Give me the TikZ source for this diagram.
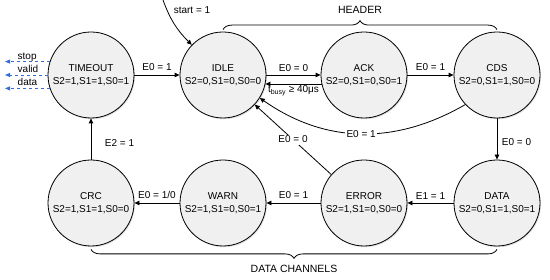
\documentclass[tikz,border=0pt]{standalone}
\usepackage{fontspec}
\setmainfont{Liberation Sans}
\usepackage{xcolor}
\usetikzlibrary{positioning,arrows.meta,shadows,decorations.pathreplacing}

\definecolor{sigblue}{HTML}{2F6FE0}

\begin{document}
\begin{tikzpicture}[
    x=1pt, y=1pt,
    state/.style={draw, circle, line width=0.8pt, minimum size=86pt, inner sep=0pt,
                  fill=gray!12, align=center, font=\fontsize{10}{13}\selectfont,
                  drop shadow={shadow xshift=1pt, shadow yshift=-1.2pt, opacity=0.25}},
    lbl/.style={font=\fontsize{10}{12}\selectfont, inner sep=1.5pt},
    grp/.style={font=\fontsize{10.5}{12}\selectfont, inner sep=1.5pt},
    arr/.style={-{Triangle[length=5pt, width=4.5pt]}, line width=0.8pt},
    sig/.style={-{Triangle[length=5pt, width=4pt]}, dashed, line width=0.8pt, sigblue},
    brc/.style={decorate, decoration={brace, amplitude=9pt}, line width=0.8pt}
  ]
  \useasboundingbox (0,0) rectangle (550,280);

  \node[state] (timeout) at (91,205)  {TIMEOUT\\S2=1,S1=1,S0=1};
  \node[state] (idle)    at (223,205) {IDLE\\S2=0,S1=0,S0=0};
  \node[state] (ack)     at (364,205) {ACK\\S2=0,S1=0,S0=1};
  \node[state] (cds)     at (497,205) {CDS\\S2=0,S1=1,S0=0};

  \node[state] (crc)     at (91,77)   {CRC\\S2=1,S1=1,S0=0};
  \node[state] (warn)    at (223,77)  {WARN\\S2=1,S1=0,S0=1};
  \node[state] (error)   at (364,77)  {ERROR\\S2=1,S1=0,S0=0};
  \node[state] (data)    at (497,77)  {DATA\\S2=0,S1=1,S0=1};

  % Entry into the idle state.
  \coordinate (startpt) at (163,280);
  \draw[arr] (startpt) to[out=-70, in=135] (idle.136);
  \node[lbl] (startlbl) at (192,270) {start = 1};

  % Header part of the frame.
  \draw[arr] (timeout) -- node[lbl, above, yshift=2pt] {E0 = 1} (idle);
  \draw[arr] (idle.0) -- node[lbl, above, yshift=1pt] {E0 = 0} (ack.180);
  \draw[arr] (ack.-168) -- node[lbl, below] {t\textsubscript{busy} ≥ 40μs} (idle.-12);
  \draw[arr] (ack) -- node[lbl, above, yshift=2pt] {E0 = 1} (cds);
  \draw[arr] (cds.223) to[out=210, in=-35] node[lbl, fill=white] {E0 = 1} (idle.-32);
  \draw[arr] (cds) -- node[lbl, right, xshift=3pt, yshift=-3pt] {E0 = 0} (data);

  % Data channels, back to the timeout state.
  \draw[arr] (data) -- node[lbl, above, yshift=2pt] {E1 = 1} (error);
  \draw[arr] (error) -- node[lbl, above, yshift=2pt] {E0 = 1} (warn);
  \draw[arr] (error.139) -- node[lbl, fill=white] {E0 = 0} (idle.-43);
  \draw[arr] (warn) -- node[lbl, above, yshift=2pt] {E0 = 1/0} (crc);
  \draw[arr] (crc) -- node[lbl, right, xshift=12pt, yshift=-4pt] {E2 = 1} (timeout);

  % Outputs of the timeout state (blue, dashed).
  \coordinate (outx) at (5,0);
  \draw[sig] (timeout.162) -- (timeout.162 -| outx);
  \draw[sig] (timeout.180) -- (timeout.180 -| outx);
  \draw[sig] (timeout.198) -- (timeout.198 -| outx);
  \node[lbl, anchor=west] (stoplbl)  at (16,223) {stop};
  \node[lbl, anchor=west] (validlbl) at (16,211) {valid};
  \node[lbl, anchor=west] (datalbl)  at (16,198) {data};

  % Groups.
  \draw[brc] ([yshift=2pt]idle.north) -- node[grp, above=14pt] (hdr) {HEADER} ([yshift=2pt]cds.north);
  \draw[brc] ([yshift=-3pt]data.south) -- node[grp, below=13.5pt] (chn) {DATA CHANNELS} ([yshift=-3pt]crc.south);
\end{tikzpicture}
\end{document}
